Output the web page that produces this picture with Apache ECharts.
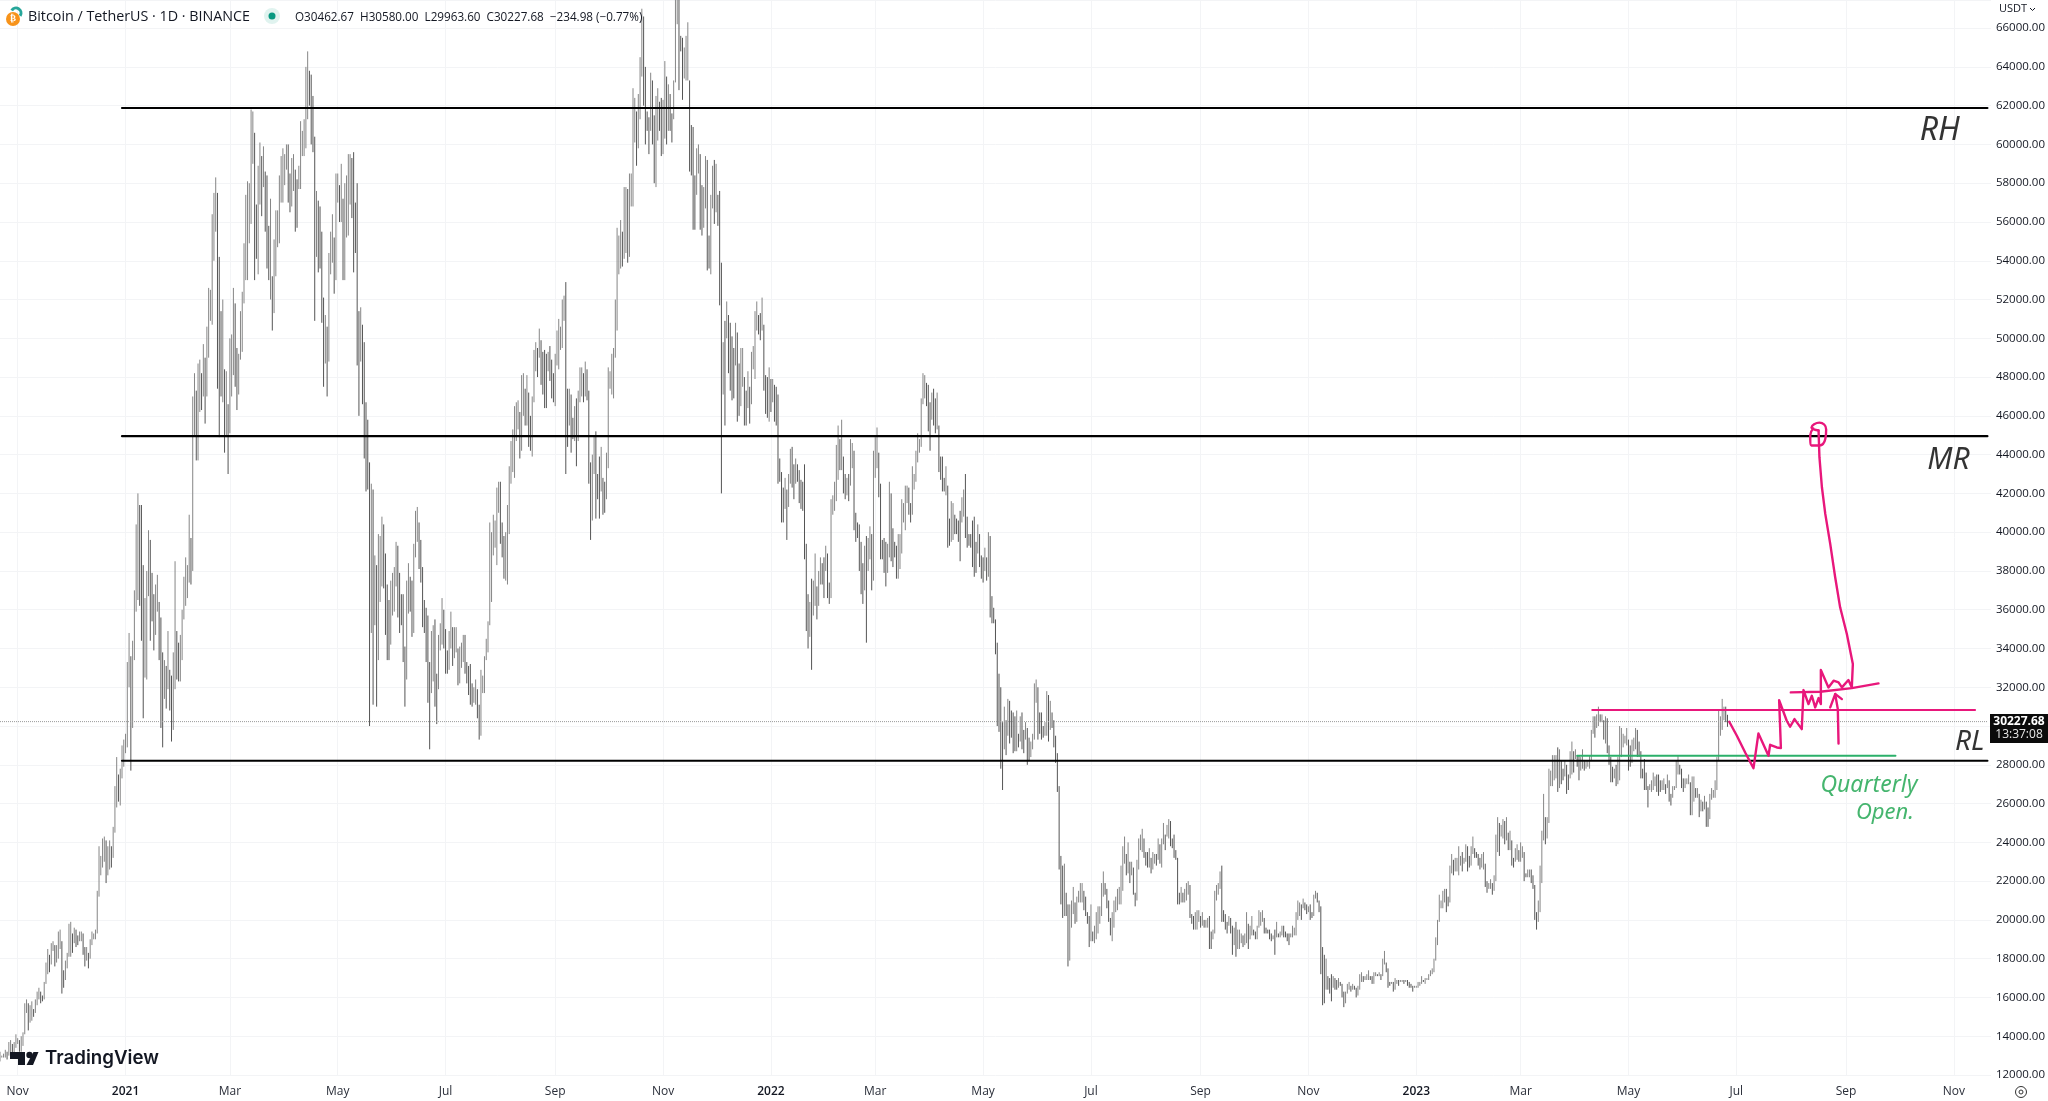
<!DOCTYPE html>
<html><head><meta charset="utf-8">
<style>html,body{margin:0;padding:0;background:#fff}#c{width:2048px;height:1101px}</style>
<script src="https://cdn.jsdelivr.net/npm/echarts@6/dist/echarts.min.js"></script>
</head><body><div id="c"></div>
<script>
// Daily low,high pairs per month, in hundreds of USDT
const d2020_10=[127,132,129,130,129,131,129,133,128,132,130,137,129,138,129,136,131,137,134,141];
const d2020_11=[136,139,132,138,132,140,135,142,141,157,152,159,143,157,147,156,148,158,150,154,152,159,156,163,159,165,157,163,158,161,159,168,167,178,172,185,173,182,177,188,184,189,176,187,178,187,180,194,185,195,162,189,165,174,169,179,175,183,181,198];
const d2020_12=[181,199,183,193,188,196,186,195,187,192,189,194,189,194,182,193,176,186,179,186,175,183,180,190,187,194,190,193,190,195,193,215,212,238,223,233,227,242,230,243,219,241,223,238,226,241,227,238,232,248,245,269,258,284,261,275,259,278,273,290,279,293];
const d2021_01=[286,296,289,333,320,348,277,336,299,344,334,370,359,404,365,420,362,414,344,414,304,383,325,366,324,380,367,401,344,396,354,379,339,368,347,373,359,378,334,364,299,356,289,338,314,334,309,331,319,349,308,329,292,326,298,338,319,385,324,349,323,343];
const d2021_02=[323,347,334,360,355,377,362,387,366,383,374,409,373,397,380,470,450,482,437,473,437,487,462,489,463,482,470,497,456,490,470,506,490,526,509,525,507,564,540,575,555,583,474,575,449,542,470,514,467,520,441,484,449,483,430,466];
const d2021_03=[451,500,470,502,481,526,475,518,463,495,471,492,489,514,493,524,518,549,530,574,530,581,549,580,559,618,590,617,530,606,541,569,533,589,569,601,563,594,578,599,555,586,536,584,530,558,520,572,504,532,513,551,532,566,547,566,549,584,570,594,570,598];
const d2021_04=[579,595,587,600,570,600,565,585,568,593,576,595,555,587,557,582,577,589,577,612,594,607,594,613,598,640,613,648,620,638,600,636,596,625,509,604,542,576,534,571,536,568,508,555,475,521,487,512,470,506,488,544,533,555,539,564,523,552,530,585];
const d2021_05=[570,585,560,579,560,590,530,572,530,580,552,584,553,595,569,595,562,593,534,596,544,570,486,580,460,514,488,516,466,507,438,498,421,467,422,458,300,436,348,425,311,422,352,388,310,383,334,399,364,398,372,408,371,404,347,389,334,373,334,365,342,375];
const d2021_06=[357,379,359,382,372,395,356,393,348,379,352,368,333,368,310,341,324,375,358,384,359,377,346,375,348,394,387,411,395,413,381,405,374,396,351,382,348,365,333,361,312,357,288,333,317,349,323,352,310,355,301,327,319,347,339,353,342,366,340,360];
const d2021_07=[327,350,327,339,329,349,340,359,331,351,335,351,338,351,321,340,322,341,330,343,333,347,327,347,322,333,316,331,311,332,310,322,312,320,311,324,304,319,293,311,295,329,317,326,317,336,334,345,338,354,352,405,364,400,388,409,392,406,383,423,410,426];
const d2021_08=[394,426,387,405,376,398,375,400,373,414,399,434,425,447,431,453,428,465,447,467,453,468,438,462,442,481,460,482,455,474,455,481,444,472,442,460,439,470,467,494,483,498,480,495,490,505,476,499,471,493,464,494,464,492,483,493,478,496,469,489,467,482];
const d2021_09=[465,492,486,504,484,510,494,506,495,520,509,522,430,529,444,474,455,474,441,471,448,459,447,465,434,469,447,473,467,485,470,485,467,482,470,488,468,484,425,473,396,436,406,440,430,450,407,452,417,430,407,439,421,444,409,428,410,426,417,441];
const d2021_10=[433,485,474,483,471,492,469,495,490,520,504,557,533,553,536,561,537,555,541,578,544,578,539,577,542,585,568,585,568,629,601,624,589,617,598,626,613,645,635,670,620,666,600,640,607,617,595,614,607,637,600,633,580,615,578,625,602,629,607,622,594,624];
const d2021_11=[595,623,603,643,600,635,607,631,607,626,601,616,613,633,632,678,662,685,628,690,648,656,623,655,634,650,633,656,633,663,586,633,584,610,556,609,556,584,574,598,585,600,556,595,553,579,557,578,567,594,535,592,536,553,533,574,567,589,559,592];
const d2021_12=[565,590,558,574,517,576,420,539,471,498,455,509,500,519,482,512,473,508,468,501,469,495,486,508,457,503,460,487,465,495,475,495,455,480,455,473,464,483,456,475,466,493,484,496,479,514,504,519,502,512,499,513,504,521,473,507,461,481,459,480,457,485];
const d2022_01=[462,479,467,479,457,476,455,475,425,471,426,438,405,431,405,423,412,428,396,422,413,430,425,443,423,444,417,435,425,438,426,435,415,432,412,427,411,426,386,435,349,394,340,368,346,364,329,376,357,375,362,389,355,372,362,380,373,387,373,384,366,387];
const d2022_02=[380,393,366,389,363,374,366,417,409,419,411,426,416,445,427,455,432,448,432,458,420,439,417,430,419,428,416,430,424,448,433,446,401,442,395,410,397,405,380,404,368,395,363,384,370,393,343,398,380,397,386,403,370,399,375,442];
const d2022_03=[428,449,433,454,418,441,386,425,386,396,379,397,372,395,379,394,387,426,385,420,382,402,387,395,376,393,376,399,381,399,389,417,405,415,401,424,415,424,409,423,405,415,409,434,422,430,426,442,436,451,441,448,444,469,466,482,469,481,465,477,452,476];
const d2022_04=[442,467,458,472,455,474,451,469,453,472,431,455,427,439,421,439,421,428,419,434,392,424,393,407,395,416,396,415,399,409,399,407,395,406,385,411,405,418,408,422,397,430,392,408,393,399,392,399,382,406,377,408,379,395,389,404,382,399,376,388];
const d2022_05=[374,387,380,392,375,387,377,400,356,398,353,367,353,361,337,355,300,343,297,327,278,320,267,302,288,310,285,303,295,314,291,313,294,308,286,307,287,305,287,308,289,296,292,305,288,307,286,298,293,302,280,299,282,294,284,292,288,296,293,322,312,324];
const d2022_06=[293,320,296,307,293,307,294,300,295,302,295,318,292,316,298,313,299,307,289,303,281,295,266,286,226,269,208,233,201,228,202,229,202,214,176,208,179,208,196,210,203,217,198,209,199,212,209,215,209,219,209,219,205,215,202,212,198,204,186,202];
const d2022_07=[189,208,189,194,188,197,190,204,193,207,198,207,202,219,212,225,213,219,206,216,199,210,192,201,189,204,196,210,204,212,205,216,208,217,208,228,215,238,229,243,223,234,224,240,219,230,223,230,213,227,207,214,210,231,226,242,236,244,235,247,232,242];
const d2022_08=[228,235,227,235,227,237,224,232,226,235,229,234,228,234,231,242,229,239,227,242,239,250,236,244,243,249,242,252,238,251,237,242,232,244,231,236,208,232,208,214,209,217,209,214,209,216,210,219,213,220,201,218,198,203,195,202,195,204,195,205,199,205];
const d2022_09=[196,202,197,204,196,200,196,200,196,201,185,202,185,194,190,195,193,215,210,218,213,219,216,225,199,228,199,205,195,203,193,199,197,202,193,201,182,197,187,196,181,199,185,195,185,195,188,193,186,192,187,193,188,204,185,198,190,197,192,202];
const d2022_10=[192,195,190,194,190,197,196,205,197,204,199,205,193,201,193,196,193,195,190,195,189,193,190,192,182,195,191,199,191,193,191,194,192,197,191,197,191,194,189,193,187,193,191,193,191,197,192,196,192,204,200,210,202,209,200,208,206,211,205,209,203,208];
const d2022_11=[204,207,200,208,201,204,202,213,211,215,209,214,204,210,172,207,156,186,157,182,164,180,164,171,162,170,158,172,165,171,164,170,164,169,165,170,166,168,160,167,155,163,157,163,162,167,164,168,163,166,164,167,164,166,160,165,161,166,164,172];
const d2022_12=[168,173,168,171,169,171,169,172,169,174,169,171,167,171,167,173,171,173,171,172,171,173,169,172,171,180,177,184,173,178,165,175,166,168,167,168,163,168,164,170,167,169,166,169,168,169,168,169,167,169,168,169,166,169,165,168,165,167,163,166,165,166];
const d2023_01=[165,166,165,168,166,168,167,171,168,169,167,170,169,170,169,172,171,174,172,175,173,180,179,191,187,200,199,213,206,210,206,215,209,216,204,216,207,212,209,228,224,234,223,231,225,232,225,232,223,238,228,233,225,235,229,232,230,239,225,238,227,233];
const d2023_02=[228,238,234,243,232,237,232,235,228,234,226,232,227,234,226,235,217,229,214,220,216,219,216,221,213,219,215,223,220,244,235,253,233,250,243,249,242,252,239,251,241,253,236,245,236,246,228,241,227,232,230,237,231,239,230,236];
const d2023_03=[230,240,232,238,220,235,222,224,222,226,222,226,219,226,216,223,200,218,195,204,199,210,204,228,219,246,241,265,239,253,242,253,250,278,269,277,269,285,272,285,273,285,266,289,268,288,270,282,272,278,274,282,265,280,267,275,273,287,275,292,276,287];
const d2023_04=[283,288,279,285,272,285,277,284,278,288,277,282,278,282,279,282,278,285,282,298,296,305,294,305,299,306,300,310,302,306,302,306,293,303,291,305,286,304,280,290,271,284,271,279,273,278,269,280,270,284,272,300,284,299,289,296,291,295,290,299];
const d2023_05=[277,293,279,290,281,293,287,294,288,299,284,298,284,292,273,287,273,278,267,283,267,276,258,269,267,270,266,272,267,276,269,274,266,275,264,275,266,272,267,272,267,273,265,270,268,275,261,272,259,265,263,269,267,269,268,282,275,285,275,280,268,278];
const d2023_06=[266,273,268,273,270,273,270,275,254,271,254,274,261,274,263,268,263,268,253,265,256,262,256,261,257,264,248,261,248,258,252,265,262,268,263,267,263,272,267,284,282,308,295,305,298,314,303,310,302,310,299.6,305.8];
const monthBlocks=[['2020-10-22',d2020_10],['2020-11-01',d2020_11],['2020-12-01',d2020_12],['2021-01-01',d2021_01],['2021-02-01',d2021_02],['2021-03-01',d2021_03],['2021-04-01',d2021_04],['2021-05-01',d2021_05],['2021-06-01',d2021_06],['2021-07-01',d2021_07],['2021-08-01',d2021_08],['2021-09-01',d2021_09],['2021-10-01',d2021_10],['2021-11-01',d2021_11],['2021-12-01',d2021_12],['2022-01-01',d2022_01],['2022-02-01',d2022_02],['2022-03-01',d2022_03],['2022-04-01',d2022_04],['2022-05-01',d2022_05],['2022-06-01',d2022_06],['2022-07-01',d2022_07],['2022-08-01',d2022_08],['2022-09-01',d2022_09],['2022-10-01',d2022_10],['2022-11-01',d2022_11],['2022-12-01',d2022_12],['2023-01-01',d2023_01],['2023-02-01',d2023_02],['2023-03-01',d2023_03],['2023-04-01',d2023_04],['2023-05-01',d2023_05],['2023-06-01',d2023_06]];
const PRICE_UNIT=100;
const monthNames=['Jan','Feb','Mar','Apr','May','Jun','Jul','Aug','Sep','Oct','Nov','Dec'];
const firstDay='2020-10-22', lastDay='2023-11-22';
const lastPrice=30227.68, countdown='13:37:08';
const headerTitle='Bitcoin / TetherUS · 1D · BINANCE';
const headerValues='O30462.67  H30580.00  L29963.60  C30227.68  −234.98 (−0.77%)';

// Drawn levels: [startDay, endDay, price]; day = days since firstDay
const blackLevels=[[69,1124,61880],[69,1124,44950],[69,1124,28210]];
const pinkLevel=[[900.5,30824],[1117,30824]];
const greenLevel=[[892,28465],[1072,28465]];
const pinkPath=[[978,30220],[982.3,29497],[987,28637],[991.7,27828],[994.5,29618],[1000.2,28465],[1001.1,29032],[1004.9,28895],[1007.2,28860],[1006.2,31339],[1010.5,30272],[1012.4,29962],[1014.9,30358],[1019,29841],[1020,31855],[1022.8,31132],[1024.7,31562],[1026.6,30960],[1028.5,31442],[1029.8,31132],[1029.8,32888],[1034.1,31993],[1037,32337],[1039.8,32251],[1041.7,31993],[1045.4,32371],[1047.3,31993],[1047.9,33197],[1047.3,33283],[1044.5,34746],[1040.7,36123],[1037.9,37672],[1035.1,39393],[1032.3,40942],[1030.4,42318],[1029,43867],[1028.5,45244]];
const pinkCircle=[[1028.5,45244],[1024.5,45400],[1029,45650],[1032.8,45300],[1032.3,44800],[1029,44470],[1024.5,44470],[1023.8,45000],[1025.5,45350]];
const pinkTrend=[[1012.8,31734],[1029.4,31769],[1047.3,31958],[1062.4,32199]];
const pinkArrow=[[1039.8,29101],[1039.4,30874],[1037.9,31648],[1035.1,30960]];
const pinkArrowHead=[[1037.9,31648],[1041.7,31390]];
const notes=[{t:'RH',d:1097,p:60680,c:'#000000',s:32},{t:'MR',d:1102,p:43700,c:'#000000',s:30},{t:'RL',d:1114,p:29190,c:'#000000',s:28},{t:'Quarterly',d:1057,p:26940,c:'#16a34a',s:23},{t:'Open.',d:1066,p:25545,c:'#16a34a',s:22}];

const pad=n=>String(n).padStart(2,'0');
const fmt=t=>{const d=new Date(t);return d.getUTCFullYear()+'-'+pad(d.getUTCMonth()+1)+'-'+pad(d.getUTCDate())};
const DAY=86400000, t0=Date.parse(firstDay+'T00:00:00Z'), t1=Date.parse(lastDay+'T00:00:00Z');
const categories=[]; for(let t=t0;t<=t1;t+=DAY) categories.push(fmt(t));
const lows=categories.map(()=>null), highs=categories.map(()=>null);
monthBlocks.forEach(([start,arr])=>{
  const i0=categories.indexOf(start);
  for(let k=0;k*2<arr.length;k++){lows[i0+k]=arr[k*2]*PRICE_UNIT;highs[i0+k]=arr[k*2+1]*PRICE_UNIT;}
});
let prev=null;
const candles=categories.map((c,i)=>{
  if(lows[i]==null) return '-';
  const mid=(lows[i]+highs[i])/2, up=prev==null||mid>=prev; prev=mid;
  return up?[lows[i],highs[i],lows[i],highs[i]]:[highs[i],lows[i],lows[i],highs[i]];
});
const isTick=(i,v)=>{const m=+v.slice(5,7),d=+v.slice(8,10);return d===1&&m%2===1;};
const lineS=(data,color,width,extra)=>Object.assign({type:'line',xAxisIndex:1,data,symbol:'none',silent:true,animation:false,smooth:false,z:5,lineStyle:{color,width,cap:'round',join:'round'}},extra||{});

const chart=echarts.init(document.getElementById('c'),null,{renderer:'canvas'});
const gridC='#f3f4f6', ink='#131722', FF='"Open Sans",Roboto,sans-serif';
const decor=[
 {type:'circle',shape:{cx:13,cy:19,r:7},style:{fill:'#f7931a'},z:20},
 {type:'text',style:{x:13,y:19,text:'₿',fill:'#fff',font:'bold 9px "DejaVu Sans"',align:'center',verticalAlign:'middle'},z:21},
 {type:'arc',shape:{cx:16,cy:13,r:5,startAngle:-2.6,endAngle:0.6},style:{stroke:'#26a69a',lineWidth:3,fill:null},z:20},
 {type:'text',style:{x:28,y:17,text:headerTitle,fill:ink,font:'14.3px '+FF,verticalAlign:'middle'},z:20},
 {type:'circle',shape:{cx:272,cy:16,r:8},style:{fill:'#e0f3ef'},z:20},
 {type:'circle',shape:{cx:272,cy:16,r:3.5},style:{fill:'#089981'},z:21},
 {type:'text',style:{x:295,y:18,text:headerValues,fill:ink,font:'11.7px '+FF,verticalAlign:'middle'},z:20},
 {type:'text',style:{x:1999,y:9,text:'USDT',fill:ink,font:'11px '+FF,verticalAlign:'middle'},z:20},
 {type:'polyline',shape:{points:[[2030,8],[2032.5,10.5],[2035,8]]},style:{stroke:ink,lineWidth:1,fill:null},z:20},
 {type:'rect',shape:{x:1990,y:714,width:58,height:29},style:{fill:'#0b0b0b'},z:20},
 {type:'text',style:{x:2019,y:722,text:lastPrice.toFixed(2),fill:'#fff',font:'bold 12px '+FF,align:'center',verticalAlign:'middle'},z:21},
 {type:'text',style:{x:2019,y:735,text:countdown,fill:'#e8e8e8',font:'12px '+FF,align:'center',verticalAlign:'middle'},z:21},
 {type:'polygon',shape:{points:[[10,1052],[25,1052],[25,1065],[18,1065],[18,1059],[10,1059]]},style:{fill:ink},z:20},
 {type:'circle',shape:{cx:29.5,cy:1055,r:3.2},style:{fill:ink},z:20},
 {type:'polygon',shape:{points:[[33.5,1052],[38.5,1052],[33,1065],[26.5,1065]]},style:{fill:ink},z:20},
 {type:'text',style:{x:45,y:1058,text:'TradingView',fill:ink,font:'600 18.7px Inter,Roboto,sans-serif',verticalAlign:'middle'},z:20},
 {type:'circle',shape:{cx:2021,cy:1092,r:5.5},style:{stroke:'#333',lineWidth:1,fill:null},z:20},
 {type:'circle',shape:{cx:2021,cy:1092,r:2},style:{stroke:'#333',lineWidth:1,fill:null},z:20}
];
chart.setOption({
 animation:false,backgroundColor:'#fff',
 grid:{left:0,right:55,top:0,height:1075,containLabel:false},
 graphic:decor,
 xAxis:[{type:'category',data:categories,boundaryGap:false,
   axisLine:{show:false},axisTick:{show:false,interval:isTick},
   splitLine:{show:true,interval:isTick,lineStyle:{color:gridC,width:1}},
   axisLabel:{interval:isTick,margin:11,color:'#2a2e39',fontSize:12,fontFamily:FF,
     formatter:v=>{const m=+v.slice(5,7);return m===1?'{y|'+v.slice(0,4)+'}':monthNames[m-1];},
     rich:{y:{color:ink,fontSize:12,fontWeight:600,fontFamily:FF}}}},
  {type:'value',min:0,max:categories.length-1,show:false,splitLine:{show:false}}],
 yAxis:{type:'value',position:'right',min:12000,max:67450,interval:2000,
   axisLine:{show:false},axisTick:{show:false},
   splitLine:{show:true,lineStyle:{color:gridC,width:1}},
   axisLabel:{inside:false,margin:5,color:ink,fontSize:11.5,fontFamily:FF,showMaxLabel:false,formatter:v=>v.toFixed(2)}},
 series:[
  {type:'candlestick',xAxisIndex:0,data:candles,barWidth:1,silent:true,animation:false,progressive:0,z:2,
   itemStyle:{color:'#868686',color0:'#555555',borderColor:'#868686',borderColor0:'#555555',borderWidth:1}},
  lineS([[0,lastPrice],[1124,lastPrice]],'#9a9a9a',1,{z:3,lineStyle:{color:'#9a9a9a',width:1,type:'dotted'}}),
  ...blackLevels.map(([a,b,p])=>lineS([[a,p],[b,p]],'#000000',2.2)),
  lineS(pinkLevel,'#e8177b',2),
  lineS(greenLevel,'#2bb06a',2),
  lineS(pinkPath,'#e8177b',2.4),
  lineS(pinkCircle,'#e8177b',2.4,{smooth:0.5}),
  lineS(pinkTrend,'#e8177b',2.4),
  lineS(pinkArrow,'#e8177b',2.4),
  lineS(pinkArrowHead,'#e8177b',2.4),
  ...notes.map(n=>({type:'scatter',xAxisIndex:1,data:[[n.d,n.p]],symbolSize:0,silent:true,z:6,animation:false,
    label:{show:true,position:'inside',formatter:n.t,color:n.c,fontSize:n.s,fontFamily:'"Noto Sans",sans-serif',fontStyle:'italic'}}))
 ]
});
</script></body></html>
